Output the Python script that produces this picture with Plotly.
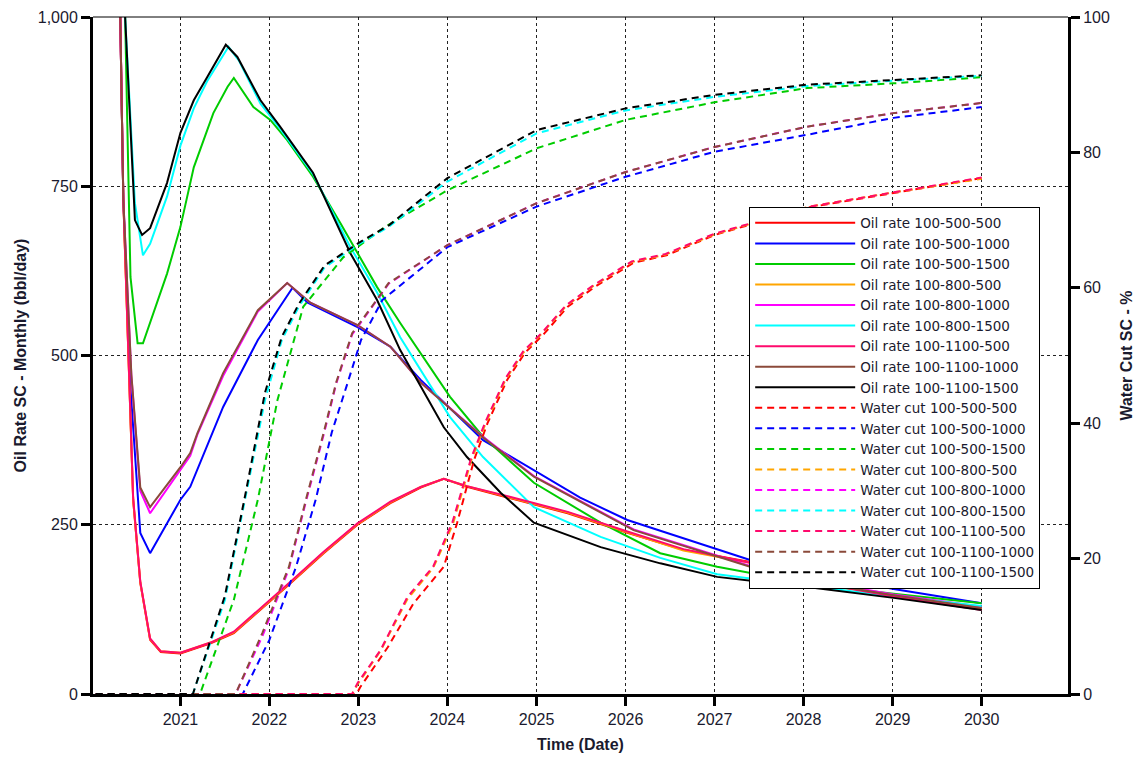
import datetime as dt
import plotly.graph_objects as go

# ---------------- data (decimal years, values) ----------------
# Oil rates (bbl/day)
t_oil_500_500 = [2020.30, 2020.36, 2020.47, 2020.55, 2020.66, 2020.78, 2021.0, 2021.34, 2021.60, 2021.93, 2022.24, 2022.61, 2022.99, 2023.36, 2023.70, 2023.96, 2024.22, 2024.71, 2025.35, 2026.02, 2026.65, 2027.40, 2028.04, 2029.01, 2030.0]
oil_500_500 = [1200, 730, 287, 164, 80, 62, 60, 75, 90, 128, 164, 208, 250, 282, 305, 318, 306, 289, 267, 238, 213, 195, 168, 145, 125]
oil_800_500 = [1200, 730, 287, 165, 81, 63, 61, 76, 91, 129, 165, 209, 251, 283, 306, 318, 307, 290, 268, 239, 212, 194, 167, 145, 126]
oil_1100_500 = [1200, 732, 290, 166, 82, 63, 61, 76, 92, 130, 166, 210, 252, 284, 306, 318, 307, 291, 269, 240, 214, 194, 167, 144, 124]

t_oil_500_1000 = [2020.30, 2020.36, 2020.44, 2020.55, 2020.66, 2021.0, 2021.11, 2021.48, 2021.87, 2022.26, 2022.43, 2022.99, 2023.36, 2023.70, 2024.40, 2024.97, 2025.49, 2026.02, 2027.03, 2027.40, 2028.04, 2029.01, 2030.0]
oil_500_1000 = [1200, 730, 453, 238, 208, 287, 306, 424, 523, 600, 578, 542, 513, 464, 375, 331, 290, 257, 213, 198, 180, 155, 134]

t_oil_x_1000 = [2020.30, 2020.36, 2020.45, 2020.55, 2020.66, 2021.0, 2021.11, 2021.19, 2021.48, 2021.87, 2022.20, 2022.46, 2022.99, 2023.36, 2023.70, 2024.40, 2024.97, 2026.09, 2027.40, 2028.04, 2029.01, 2030.0]
oil_800_1000 = [1200, 730, 470, 300, 267, 330, 352, 383, 470, 565, 607, 578, 545, 513, 460, 380, 322, 243, 189, 169, 147, 129]
oil_1100_1000 = [1200, 730, 472, 305, 276, 335, 356, 385, 474, 567, 607, 578, 545, 513, 460, 379, 321, 242, 188, 167, 146, 127]

t_oil_500_1500 = [2020.30, 2020.38, 2020.44, 2020.52, 2020.58, 2020.85, 2021.0, 2021.15, 2021.37, 2021.53, 2021.60, 2021.82, 2022.01, 2022.20, 2022.49, 2022.80, 2023.21, 2023.47, 2024.03, 2024.40, 2024.97, 2025.72, 2026.39, 2027.03, 2028.04, 2029.01, 2030.0]
oil_500_1500 = [1200, 1000, 616, 518, 518, 621, 690, 778, 858, 897, 910, 867, 848, 818, 764, 695, 601, 548, 439, 380, 312, 253, 208, 188, 163, 148, 134]

t_oil_800_1500 = [2020.30, 2020.38, 2020.49, 2020.58, 2020.66, 2020.85, 2021.0, 2021.15, 2021.30, 2021.54, 2021.66, 2021.90, 2022.12, 2022.49, 2022.91, 2023.21, 2023.47, 2024.03, 2024.40, 2024.97, 2025.72, 2026.39, 2027.03, 2028.04, 2029.01, 2030.0]
oil_800_1500 = [1200, 1000, 725, 648, 665, 735, 810, 865, 905, 956, 935, 872, 835, 768, 660, 593, 527, 409, 350, 276, 232, 201, 177, 160, 144, 130]

t_oil_1100_1500 = [2020.30, 2020.38, 2020.49, 2020.57, 2020.66, 2020.85, 2021.0, 2021.15, 2021.30, 2021.51, 2021.64, 2021.90, 2022.12, 2022.49, 2022.91, 2023.21, 2023.47, 2023.96, 2024.22, 2024.60, 2024.97, 2025.72, 2026.39, 2027.03, 2028.04, 2029.01, 2030.0]
oil_1100_1500 = [1200, 1000, 700, 678, 688, 755, 829, 877, 911, 959, 941, 877, 838, 770, 651, 582, 508, 394, 350, 297, 253, 217, 193, 173, 158, 142, 124]

# Water cut (%)
t_wc_500_500 = [2020.05, 2022.98, 2023.02, 2023.33, 2023.62, 2023.96, 2024.11, 2024.30, 2024.45, 2024.67, 2024.87, 2025.09, 2025.35, 2025.65, 2026.09, 2026.46, 2027.0, 2028.07, 2029.01, 2030.0]
wc_500_500 = [0, 0, 1.0, 6.9, 13.4, 18.8, 25.3, 34.6, 40.0, 46.4, 50.4, 53.3, 57.2, 60.1, 63.7, 64.8, 67.8, 71.9, 74.0, 76.2]
t_wc_x_500 = [2020.05, 2022.93, 2022.99, 2023.25, 2023.55, 2023.84, 2024.06, 2024.27, 2024.43, 2024.65, 2024.85, 2025.07, 2025.33, 2025.63, 2026.07, 2026.45, 2027.0, 2028.07, 2029.01, 2030.0]
wc_800_500 = [0, 0, 1.4, 6.4, 14.0, 18.6, 25.0, 34.6, 40.0, 46.4, 50.4, 53.4, 57.3, 60.2, 63.8, 64.9, 67.9, 72.0, 74.1, 76.1]
wc_1100_500 = [0, 0, 1.6, 6.5, 14.3, 18.8, 25.5, 35.0, 40.3, 46.6, 50.6, 53.5, 57.4, 60.3, 63.9, 65.0, 68.0, 72.0, 74.1, 76.3]

t_wc_500_1000 = [2020.05, 2021.70, 2022.00, 2022.30, 2022.52, 2022.70, 2022.88, 2023.03, 2023.27, 2024.0, 2025.0, 2026.0, 2027.0, 2028.04, 2029.01, 2030.0]
wc_500_1000 = [0, 0, 8.0, 18.8, 28.7, 38.6, 46.0, 52.3, 58.2, 66.0, 72.0, 76.4, 80.1, 82.6, 85.1, 86.7]
t_wc_x_1000 = [2020.05, 2021.62, 2021.92, 2022.22, 2022.41, 2022.61, 2022.75, 2022.93, 2023.15, 2023.34, 2024.0, 2025.0, 2026.0, 2027.0, 2028.04, 2029.01, 2030.0]
wc_800_1000 = [0, 0, 8.5, 18.5, 28.4, 38.3, 45.8, 53.1, 57.1, 60.6, 66.3, 72.5, 77.1, 80.8, 83.8, 85.8, 87.3]
wc_1100_1000 = [0, 0, 9.0, 18.8, 28.7, 38.6, 46.0, 53.3, 57.2, 60.7, 66.3, 72.5, 77.1, 80.8, 83.8, 85.8, 87.3]

t_wc_500_1500 = [2020.05, 2021.22, 2021.60, 2021.87, 2022.09, 2022.38, 2022.83, 2023.30, 2024.0, 2025.0, 2026.0, 2027.0, 2028.04, 2029.01, 2030.0]
wc_500_1500 = [0, 0, 13.9, 28.7, 43.4, 57.2, 64.5, 69.0, 74.4, 80.6, 84.8, 87.4, 89.5, 90.2, 91.1]
t_wc_x_1500 = [2020.05, 2021.14, 2021.50, 2021.73, 2021.95, 2022.14, 2022.33, 2022.62, 2023.0, 2023.35, 2024.0, 2025.0, 2026.0, 2027.0, 2028.04, 2029.01, 2030.0]
wc_800_1500 = [0, 0, 13.9, 28.7, 43.4, 52.3, 57.2, 63.0, 66.4, 69.1, 75.7, 82.8, 86.2, 88.2, 89.8, 90.6, 91.3]
wc_1100_1500 = [0, 0, 14.5, 29.5, 44.5, 52.8, 57.6, 63.3, 66.6, 69.3, 76.2, 83.3, 86.5, 88.5, 90.0, 90.7, 91.4]

scenarios = ["100-500-500", "100-500-1000", "100-500-1500", "100-800-500", "100-800-1000",
             "100-800-1500", "100-1100-500", "100-1100-1000", "100-1100-1500"]
colors = ["#ff0000", "#0000ff", "#00cc00", "#ffa500", "#ff00ff",
          "#00ffff", "#ff0a6c", "#8b4a3a", "#000000"]

oil_t = [t_oil_500_500, t_oil_500_1000, t_oil_500_1500, t_oil_500_500, t_oil_x_1000,
         t_oil_800_1500, t_oil_500_500, t_oil_x_1000, t_oil_1100_1500]
oil_v = [oil_500_500, oil_500_1000, oil_500_1500, oil_800_500, oil_800_1000,
         oil_800_1500, oil_1100_500, oil_1100_1000, oil_1100_1500]
wc_t = [t_wc_500_500, t_wc_500_1000, t_wc_500_1500, t_wc_x_500, t_wc_x_1000,
        t_wc_x_1500, t_wc_x_500, t_wc_x_1000, t_wc_x_1500]
wc_v = [wc_500_500, wc_500_1000, wc_500_1500, wc_800_500, wc_800_1000,
        wc_800_1500, wc_1100_500, wc_1100_1000, wc_1100_1500]

tick_years = [2021, 2022, 2023, 2024, 2025, 2026, 2027, 2028, 2029, 2030]


def to_date(v):
    y = int(v)
    s = dt.datetime(y, 1, 1)
    e = dt.datetime(y + 1, 1, 1)
    return s + (e - s) * (v - y)


FONT = "Arial, 'Liberation Sans', sans-serif"
LEGFONT = "'DejaVu Sans', Arial, sans-serif"
TXT = "#1a1a2e"
fig = go.Figure()

for name, c, t, v in zip(scenarios, colors, oil_t, oil_v):
    fig.add_trace(go.Scatter(x=[to_date(a) for a in t], y=v, mode="lines",
                             name="Oil rate " + name, line=dict(color=c, width=2),
                             yaxis="y"))
for name, c, t, v in zip(scenarios, colors, wc_t, wc_v):
    fig.add_trace(go.Scatter(x=[to_date(a) for a in t], y=v, mode="lines",
                             name="Water cut " + name,
                             line=dict(color=c, width=2, dash="7px,5px"),
                             yaxis="y2"))

axis_common = dict(showline=True, linecolor="black", linewidth=3,
                   ticks="outside", ticklen=9, tickwidth=3, tickcolor="black",
                   tickfont=dict(size=16, family=FONT, color=TXT), zeroline=False,
                   automargin=False)

fig.update_layout(
    width=1140, height=757,
    margin=dict(l=93, r=72, t=17, b=63),
    paper_bgcolor="white", plot_bgcolor="white",
    font=dict(family=FONT, color=TXT, size=15),
    showlegend=True,
    legend=dict(x=0.673, y=0.72, xanchor="left", yanchor="top",
                bgcolor="white", bordercolor="black", borderwidth=1,
                font=dict(family=LEGFONT, size=13.5, color=TXT),
                itemwidth=100, tracegroupgap=0),
    xaxis=dict(type="date",
               range=[to_date(2020.02), to_date(2030.97)],
               tickvals=[dt.datetime(y, 1, 1) for y in tick_years],
               ticktext=[str(y) for y in tick_years],
               showgrid=True, gridcolor="#222", griddash="3px,3px", gridwidth=1,
               title=dict(text="<b>Time (Date)</b>", font=dict(size=16, color=TXT), standoff=12),
               **axis_common),
    yaxis=dict(range=[0, 1000], tickvals=[0, 250, 500, 750, 1000], tickformat=",",
               showgrid=True, gridcolor="#222", griddash="3px,3px", gridwidth=1,
               title=dict(text="<b>Oil Rate SC - Monthly (bbl/day)</b>", font=dict(size=16, color=TXT), standoff=8),
               **axis_common),
    yaxis2=dict(range=[0, 100], tickvals=[0, 20, 40, 60, 80, 100], overlaying="y", side="right",
                showgrid=False,
                title=dict(text="<b>Water Cut SC - %</b>", font=dict(size=16, color=TXT), standoff=12),
                **axis_common),
    shapes=[dict(type="line", xref="paper", yref="paper", x0=0, x1=1, y0=1, y1=1,
                 line=dict(color="black", width=1))],
)

fig.write_html("out.html")
